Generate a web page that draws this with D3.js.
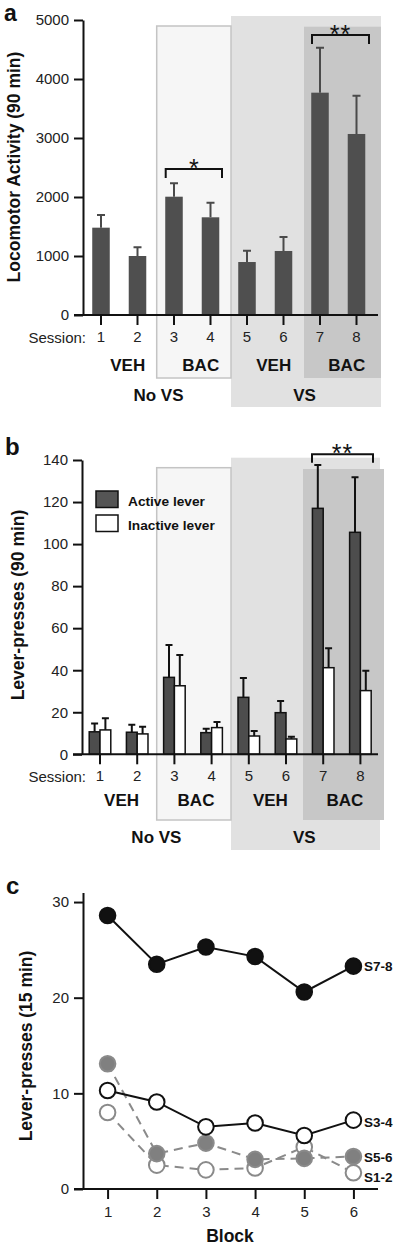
<!DOCTYPE html>
<html>
<head>
<meta charset="utf-8">
<script src="https://cdn.jsdelivr.net/npm/d3@7"></script>
<style>
  html, body { margin: 0; padding: 0; background: #fff; }
  svg { display: block; font-family: "Liberation Sans", Arial, Helvetica, sans-serif; }
  .axis text { font-size: 15px; fill: #222; }
  .axis path, .axis line { stroke: #111; stroke-width: 2; }
</style>
</head>
<body>
<svg id="chart" width="400" height="1249"></svg>
<script>
// ---------- DATA ----------
const sessions = ["1", "2", "3", "4", "5", "6", "7", "8"];
const locoMean = [1480, 1000, 2005, 1656, 898, 1085, 3768, 3068];
const locoSem  = [215, 150, 227, 247, 192, 237, 762, 649];
const locoTicks = [0, 1000, 2000, 3000, 4000, 5000];

const activeMean   = [10.7, 10.5, 36.6, 10.3, 27.1, 19.8, 117, 105.6];
const activeSem    = [4.0, 3.5, 15.4, 1.9, 9.2, 5.6, 20.6, 26.2];
const inactiveMean = [11.6, 9.7, 32.6, 12.7, 8.7, 7.3, 41.2, 30.3];
const inactiveSem  = [5.5, 3.4, 14.6, 2.7, 2.4, 1.1, 9.2, 9.5];
const leverTicks = [0, 20, 40, 60, 80, 100, 120, 140];
const leverSeries = ["Active lever", "Inactive lever"];

const drugGroups = [
  { label: "VEH", from: "1", to: "2" },
  { label: "BAC", from: "3", to: "4" },
  { label: "VEH", from: "5", to: "6" },
  { label: "BAC", from: "7", to: "8" }
];
const vsGroups = [
  { label: "No VS", from: "1", to: "4" },
  { label: "VS", from: "5", to: "8" }
];

const blocks = [1, 2, 3, 4, 5, 6];
const s78 = [28.6, 23.5, 25.3, 24.3, 20.6, 23.3];
const s34 = [10.3, 9.1, 6.5, 6.9, 5.6, 7.2];
const s56 = [13.1, 3.7, 4.8, 3.1, 3.2, 3.4];
const s12 = [8.0, 2.5, 2.0, 2.2, 4.4, 1.7];
const blockTicks = [0, 10, 20, 30];

// ---------- SETUP ----------
const svg = d3.select("#chart");
const FONT_BOLD = 700;

function boldText(g, x, y, txt, size, anchor) {
  return g.append("text").attr("x", x).attr("y", y).text(txt)
    .attr("font-size", size).attr("font-weight", FONT_BOLD)
    .attr("text-anchor", anchor || "middle").attr("fill", "#111");
}
function yLabel(x, y, txt) {
  svg.append("text").attr("transform", `translate(${x},${y}) rotate(-90)`)
    .attr("text-anchor", "middle").attr("dominant-baseline", "central")
    .attr("font-size", 17.5).attr("font-weight", FONT_BOLD).attr("fill", "#111").text(txt);
}
function bracket(g, x0, x1, y, drop, stars, starY) {
  g.append("path").attr("d", `M${x0},${y + drop}V${y}H${x1}V${y + drop}`)
    .attr("fill", "none").attr("stroke", "#111").attr("stroke-width", 2);
  g.append("text").attr("x", (x0 + x1) / 2).attr("y", starY).text(stars)
    .attr("text-anchor", "middle").attr("font-size", 25).attr("letter-spacing", stars.length > 1 ? 1 : 0)
    .attr("fill", "#111");
}

// ================= PANEL A =================
(function () {
  const g = svg.append("g");
  const x = d3.scaleBand(sessions, [82.75, 374.75]).paddingInner(0.52).paddingOuter(0.26);
  const y = d3.scaleLinear([0, 5000], [315, 20]);
  const cx = s => x(s) + x.bandwidth() / 2;

  // background boxes
  g.append("rect").attr("x", 231).attr("y", 16).attr("width", 150).attr("height", 391).attr("fill", "#e1e1e1");
  g.append("rect").attr("x", 156.7).attr("y", 26).attr("width", 74.3).attr("height", 352)
    .attr("fill", "#f6f6f6").attr("stroke", "#c4c4c4").attr("stroke-width", 1.5);
  g.append("rect").attr("x", 304).attr("y", 26.7).attr("width", 77).attr("height", 351.3).attr("fill", "#c7c7c7");

  // bars
  g.selectAll(".bar").data(sessions).join("rect")
    .attr("x", d => x(d)).attr("width", x.bandwidth())
    .attr("y", (d, i) => y(locoMean[i])).attr("height", (d, i) => y(0) - y(locoMean[i]))
    .attr("fill", "#4f4f4f");
  // error bars
  g.selectAll(".err").data(sessions).join("path")
    .attr("d", (d, i) => `M${cx(d)},${y(locoMean[i])}V${y(locoMean[i] + locoSem[i])}M${cx(d) - 4},${y(locoMean[i] + locoSem[i])}h8`)
    .attr("stroke", "#4a4a4a").attr("stroke-width", 2).attr("fill", "none");

  // axes
  g.append("g").attr("class", "axis").attr("transform", "translate(83,0)")
    .call(d3.axisLeft(y).tickValues(locoTicks).tickFormat(d3.format("d")).tickSize(9).tickPadding(5).tickSizeOuter(0));
  const xa = g.append("g").attr("class", "axis").attr("transform", "translate(0,315)")
    .call(d3.axisBottom(x).tickSize(10).tickPadding(6.5).tickSizeOuter(0));
  xa.select(".domain").remove();
  g.append("line").attr("x1", 74).attr("x2", 378).attr("y1", 315).attr("y2", 315).attr("stroke", "#111").attr("stroke-width", 2);
  g.append("text").attr("x", 86).attr("y", 342.5).attr("text-anchor", "end").attr("font-size", 15).attr("fill", "#222").text("Session:");

  drugGroups.forEach(gr => boldText(g, (cx(gr.from) + cx(gr.to)) / 2 + 8.5, 371, gr.label, 17));
  boldText(g, 158.5, 401, vsGroups[0].label, 17);
  boldText(g, 304.5, 401, vsGroups[1].label, 17);

  bracket(g, 165.7, 222, 169, 9, "*", 177);
  bracket(g, 312, 369, 35, 9, "**", 43);

  boldText(g, 4, 21, "a", 23, "start");
  yLabel(14, 167, "Locomotor Activity (90 min)");
})();

// ================= PANEL B =================
(function () {
  const g = svg.append("g");
  const x = d3.scaleBand(sessions, [81.4, 379]).paddingInner(0.42).paddingOuter(0.21);
  const xs = d3.scaleBand(leverSeries, [0, x.bandwidth()]);
  const y = d3.scaleLinear([0, 140], [754.3, 460]);
  const cx = s => x(s) + x.bandwidth() / 2;

  g.append("rect").attr("x", 231).attr("y", 457.7).attr("width", 149).attr("height", 392.3).attr("fill", "#e1e1e1");
  g.append("rect").attr("x", 156.7).attr("y", 467.7).attr("width", 74.3).attr("height", 352.3)
    .attr("fill", "#f6f6f6").attr("stroke", "#c4c4c4").attr("stroke-width", 1.5);
  g.append("rect").attr("x", 303).attr("y", 469).attr("width", 81).attr("height", 351).attr("fill", "#c7c7c7");

  const series = [
    { key: leverSeries[0], mean: activeMean, sem: activeSem, fill: "#4d4d4d" },
    { key: leverSeries[1], mean: inactiveMean, sem: inactiveSem, fill: "#ffffff" }
  ];
  series.forEach(s => {
    const bx = d => x(d) + xs(s.key);
    const bc = d => bx(d) + xs.bandwidth() / 2;
    g.selectAll(null).data(sessions).join("path")
      .attr("d", (d, i) => `M${bc(d)},${y(s.mean[i])}V${y(s.mean[i] + s.sem[i])}M${bc(d) - 3.5},${y(s.mean[i] + s.sem[i])}h7`)
      .attr("stroke", "#111").attr("stroke-width", 2).attr("fill", "none");
    g.selectAll(null).data(sessions).join("rect")
      .attr("x", d => bx(d)).attr("width", xs.bandwidth())
      .attr("y", (d, i) => y(s.mean[i])).attr("height", (d, i) => y(0) - y(s.mean[i]))
      .attr("fill", s.fill).attr("stroke", "#111").attr("stroke-width", 1.5);
  });

  g.append("g").attr("class", "axis").attr("transform", "translate(82,0)")
    .call(d3.axisLeft(y).tickValues(leverTicks).tickSize(9).tickPadding(5).tickSizeOuter(0));
  const xa = g.append("g").attr("class", "axis").attr("transform", "translate(0,754.3)")
    .call(d3.axisBottom(x).tickSize(10).tickPadding(6.5).tickSizeOuter(0));
  xa.select(".domain").remove();
  g.append("line").attr("x1", 73).attr("x2", 378).attr("y1", 754.3).attr("y2", 754.3).attr("stroke", "#111").attr("stroke-width", 2);
  g.append("text").attr("x", 86).attr("y", 781.5).attr("text-anchor", "end").attr("font-size", 15).attr("fill", "#222").text("Session:");

  drugGroups.forEach(gr => boldText(g, (cx(gr.from) + cx(gr.to)) / 2 + 3, 806, gr.label, 17));
  boldText(g, 156.4, 843, vsGroups[0].label, 17);
  boldText(g, 304.3, 843, vsGroups[1].label, 17);

  // legend
  series.forEach((s, i) => {
    g.append("rect").attr("x", 96).attr("y", 491 + i * 24).attr("width", 22).attr("height", 16.5)
      .attr("fill", s.fill === "#ffffff" ? "#fff" : "#555").attr("stroke", "#111").attr("stroke-width", 1.5);
    boldText(g, 128, 506 + i * 23.5, s.key, 13.7, "start");
  });

  bracket(g, 312, 373, 454.3, 8.5, "**", 462);

  boldText(g, 5, 455, "b", 24, "start");
  yLabel(18, 605, "Lever-presses (90 min)");
})();

// ================= PANEL C =================
(function () {
  const g = svg.append("g");
  const x = d3.scaleLinear([0.5, 6.5], [83, 378]);
  const y = d3.scaleLinear([0, 31], [1189, 1189 - 31 * 9.565]);

  g.append("g").attr("class", "axis").attr("transform", "translate(83,0)")
    .call(d3.axisLeft(y).tickValues(blockTicks).tickSize(9).tickPadding(5).tickSizeOuter(0));
  const xa = g.append("g").attr("class", "axis").attr("transform", "translate(0,1189)")
    .call(d3.axisBottom(x).tickValues(blocks).tickFormat(d3.format("d")).tickSize(10).tickPadding(7).tickSizeOuter(0));
  xa.selectAll("text").attr("font-size", 15.5);
  xa.select(".domain").remove();
  g.append("line").attr("x1", 74).attr("x2", 378).attr("y1", 1189).attr("y2", 1189).attr("stroke", "#111").attr("stroke-width", 2);

  const line = d3.line().x((d, i) => x(blocks[i])).y(d => y(d));
  const lines = [
    { name: "S1-2", vals: s12, stroke: "#8a8a8a", fill: "#fff", dash: "9,6" },
    { name: "S5-6", vals: s56, stroke: "#8a8a8a", fill: "#808080", dash: "9,6" },
    { name: "S3-4", vals: s34, stroke: "#111", fill: "#fff", dash: null },
    { name: "S7-8", vals: s78, stroke: "#111", fill: "#111", dash: null }
  ];
  lines.forEach(L => {
    g.append("path").attr("d", line(L.vals)).attr("fill", "none")
      .attr("stroke", L.stroke).attr("stroke-width", 2).attr("stroke-dasharray", L.dash);
  });
  lines.forEach(L => {
    g.selectAll(null).data(L.vals).join("circle")
      .attr("cx", (d, i) => x(blocks[i])).attr("cy", d => y(d)).attr("r", 7.8)
      .attr("fill", L.fill).attr("stroke", L.stroke).attr("stroke-width", 2);
  });
  const labelY = { "S7-8": 970.5, "S3-4": 1126.5, "S5-6": 1161.5, "S1-2": 1181.5 };
  lines.forEach(L => boldText(g, 364, labelY[L.name], L.name, 13.5, "start"));

  boldText(g, 230, 1242, "Block", 17.5);
  boldText(g, 6, 894, "c", 24, "start");
  yLabel(25.5, 1046, "Lever-presses (15 min)");
})();
</script>
</body>
</html>
